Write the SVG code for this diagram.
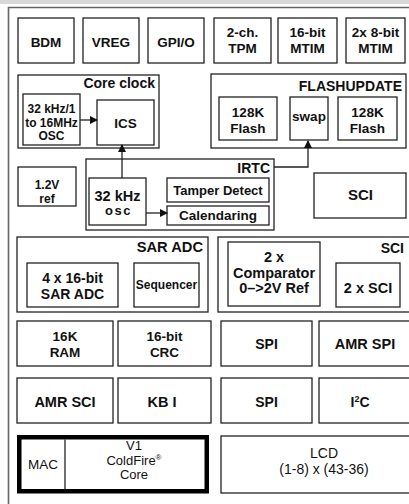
<svg xmlns="http://www.w3.org/2000/svg" width="409" height="504" viewBox="0 0 409 504">
<defs>
<style>
.b{fill:#fff;stroke:#222;stroke-width:1.3}
.g{fill:none;stroke:#222;stroke-width:1.3}
text{font-family:"Liberation Sans",Arial,sans-serif;fill:#111}
.t{font-weight:bold;font-size:13.5px;text-anchor:middle}
.l{font-weight:bold;font-size:14px;text-anchor:end}
.s{font-weight:bold;font-size:12px;text-anchor:middle}
.r{font-size:13.5px;text-anchor:middle}
.c{fill:none;stroke:#222;stroke-width:1.3}
</style>
<marker id="ah" markerWidth="8" markerHeight="8" refX="7" refY="4" orient="auto" markerUnits="userSpaceOnUse">
<path d="M0,0 L8,4 L0,8 Z" fill="#111"/>
</marker>
</defs>
<rect x="0" y="0" width="409" height="4" fill="#d9d9d9"/>
<path d="M8.5,504 V7.5 H409" fill="none" stroke="#666" stroke-width="1.6"/>

<g id="bdm"><rect class="b" x="18" y="18" width="56" height="45"/><text class="t" x="46" y="47">BDM</text></g>
<g id="vreg"><rect class="b" x="83" y="18" width="56" height="45"/><text class="t" x="111" y="47">VREG</text></g>
<g id="gpio"><rect class="b" x="148" y="18" width="56" height="45"/><text class="t" x="176" y="47">GPI/O</text></g>
<g id="tpm"><rect class="b" x="214" y="18" width="57" height="45"/><text class="t" x="242.5" y="37">2-ch.</text><text class="t" x="242.5" y="53">TPM</text></g>
<g id="mtim16"><rect class="b" x="278" y="18" width="59" height="45"/><text class="t" x="307.5" y="37">16-bit</text><text class="t" x="307.5" y="53">MTIM</text></g>
<g id="mtim8"><rect class="b" x="346" y="18" width="59" height="45"/><text class="t" x="375.5" y="37">2x 8-bit</text><text class="t" x="375.5" y="53">MTIM</text></g>

<g id="coreclock"><rect class="g" x="18" y="75" width="141" height="73"/><text class="l" x="155" y="88">Core clock</text></g>
<g id="osc"><rect class="b" x="23" y="94" width="57" height="51"/><text class="s" x="51.5" y="113">32 kHz/1</text><text class="s" x="51.5" y="126.5">to 16MHz</text><text class="s" x="51.5" y="140">OSC</text></g>
<g id="ics"><rect class="b" x="97" y="100" width="57" height="45"/><text class="t" x="125.5" y="128">ICS</text></g>

<g id="flashupdate"><rect class="g" x="211" y="74" width="195" height="74"/><text class="l" x="402" y="91">FLASHUPDATE</text></g>
<g id="flash1"><rect class="b" x="219" y="97" width="58" height="43"/><text class="t" x="248" y="117">128K</text><text class="t" x="248" y="133">Flash</text></g>
<g id="swap"><rect class="b" x="290" y="97" width="38" height="43"/><text class="t" x="309" y="121">swap</text></g>
<g id="flash2"><rect class="b" x="338" y="97" width="59" height="43"/><text class="t" x="367.5" y="117">128K</text><text class="t" x="367.5" y="133">Flash</text></g>

<g id="ref"><rect class="b" x="18" y="167" width="58" height="39"/><text class="s" x="47" y="189">1.2V</text><text class="s" x="47" y="203">ref</text></g>

<g id="irtc"><rect class="g" x="86" y="159" width="188" height="71"/><text class="l" x="270" y="173">IRTC</text></g>
<g id="osc32"><rect class="b" x="89" y="178" width="57" height="47"/><text class="t" x="117.5" y="201" style="font-size:14.5px">32 kHz</text><text class="t" x="118.5" y="215" style="font-size:13px;letter-spacing:1.5px">osc</text></g>
<g id="tamper"><rect class="b" x="167" y="178" width="102" height="24"/><text class="t" x="218" y="195" style="font-size:13px">Tamper Detect</text></g>
<g id="calendaring"><rect class="b" x="167" y="206" width="102" height="19"/><text class="t" x="218" y="220">Calendaring</text></g>

<g id="sci1"><rect class="b" x="314" y="173" width="92" height="45"/><text class="t" x="360.5" y="200" style="font-size:15px">SCI</text></g>

<g id="saradc"><rect class="g" x="17" y="237" width="191" height="75"/><text class="l" x="203" y="252" style="font-size:14.7px">SAR ADC</text></g>
<g id="adc"><rect class="b" x="27" y="263" width="91" height="44"/><text class="t" x="72.5" y="283" style="font-size:14px">4 x 16-bit</text><text class="t" x="72.5" y="299" style="font-size:14px">SAR ADC</text></g>
<g id="sequencer"><rect class="b" x="134" y="263" width="65" height="44"/><text class="s" x="166.5" y="289">Sequencer</text></g>

<g id="scigroup"><rect class="g" x="218" y="237" width="193" height="75"/><text class="l" x="404" y="253">SCI</text></g>
<g id="comparator"><rect class="b" x="228" y="242" width="92" height="64"/><text class="t" x="274" y="262" style="font-size:14.5px">2 x</text><text class="t" x="274" y="278" style="font-size:14.5px">Comparator</text><text class="t" x="274" y="293" style="font-size:14.5px">0–&gt;2V Ref</text></g>
<g id="sci2"><rect class="b" x="336" y="263" width="64" height="44"/><text class="t" x="368" y="293" style="font-size:14.5px">2 x SCI</text></g>

<g id="ram"><rect class="b" x="17" y="321" width="96" height="45"/><text class="t" x="65" y="341">16K</text><text class="t" x="65" y="357">RAM</text></g>
<g id="crc"><rect class="b" x="118" y="321" width="93" height="45"/><text class="t" x="164.5" y="341">16-bit</text><text class="t" x="164.5" y="357">CRC</text></g>
<g id="spi1"><rect class="b" x="221" y="321" width="91" height="45"/><text class="t" x="266.5" y="349" style="font-size:14px">SPI</text></g>
<g id="amrspi"><rect class="b" x="319" y="321" width="92" height="45"/><text class="t" x="365" y="349" style="font-size:14.5px">AMR SPI</text></g>

<g id="amrsci"><rect class="b" x="17" y="378" width="96" height="45"/><text class="t" x="65" y="407" style="font-size:14.5px">AMR SCI</text></g>
<g id="kbi"><rect class="b" x="118" y="378" width="93" height="45"/><text class="t" x="162" y="407" style="font-size:14.5px">KB I</text></g>
<g id="spi2"><rect class="b" x="221" y="378" width="91" height="45"/><text class="t" x="266.5" y="407" style="font-size:14px">SPI</text></g>
<g id="i2c"><rect class="b" x="319" y="378" width="92" height="45"/><text class="t" x="360" y="407" style="font-size:14px">I<tspan style="font-size:9px" dy="-5">2</tspan><tspan dy="5">C</tspan></text></g>

<g id="core"><rect x="19.25" y="437.25" width="187.5" height="54" fill="#fff" stroke="#000" stroke-width="4.5"/><line x1="65" y1="439.5" x2="65" y2="489" stroke="#222" stroke-width="1.3"/><text class="r" x="43" y="469">MAC</text><text class="r" x="134" y="450" style="font-size:13px">V1</text><text class="r" x="134" y="465" style="font-size:13px">ColdFire<tspan style="font-size:8px" dy="-5">®</tspan></text><text class="r" x="134" y="479" style="font-size:13px">Core</text></g>
<g id="lcd"><rect class="b" x="221" y="436" width="206" height="57"/><text class="r" x="324" y="458" style="font-size:14px">LCD</text><text class="r" x="324" y="474" style="font-size:14px">(1-8) x (43-36)</text></g>

<g id="connectors">
<line class="c" x1="80" y1="120" x2="97" y2="120" marker-end="url(#ah)"/>
<line class="c" x1="122" y1="178" x2="122" y2="145" marker-end="url(#ah)"/>
<polyline class="c" points="274,167 308,167 308,141" marker-end="url(#ah)"/>
<line class="c" x1="146" y1="213" x2="167" y2="213" marker-end="url(#ah)"/>
</g>
</svg>
